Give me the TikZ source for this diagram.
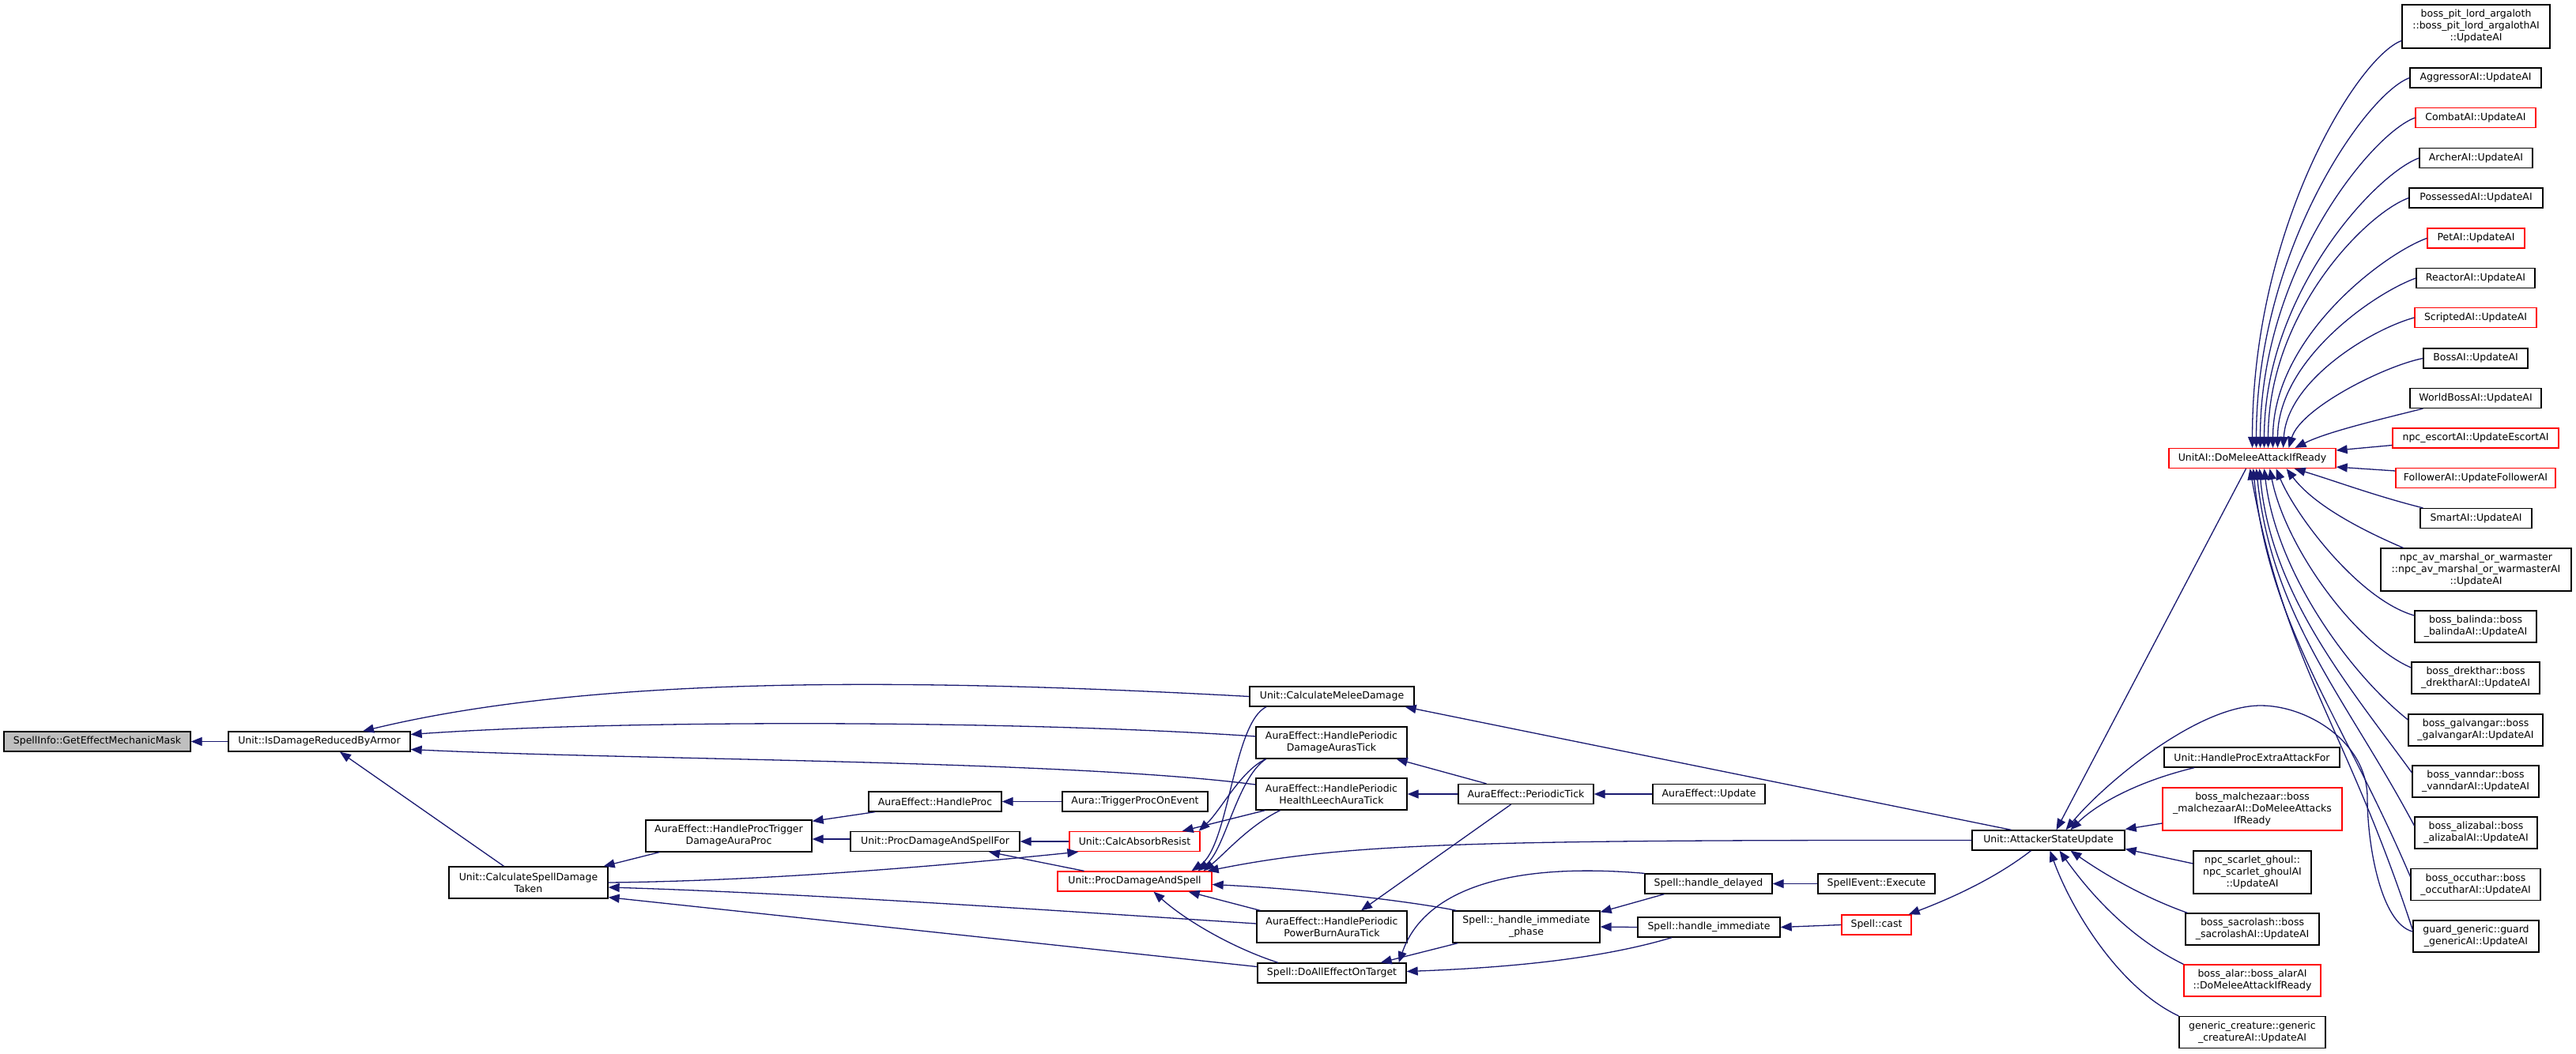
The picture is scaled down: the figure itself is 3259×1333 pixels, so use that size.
\documentclass[tikz,border=0pt]{standalone}
\usepackage{fontspec}
\setmainfont{DejaVu Sans}
\usetikzlibrary{arrows.meta}
\definecolor{DoxBlue}{RGB}{25,25,112}
\definecolor{DoxGray}{RGB}{191,191,191}
\definecolor{DoxRed}{RGB}{255,0,0}
\tikzset{
  fnbox/.style={rectangle, draw=black, line width=1.3pt, fill=white,
    align=center, inner sep=1pt, minimum height=25pt},
  redbox/.style={fnbox, draw=DoxRed},
  rootbox/.style={fnbox, fill=DoxGray},
  arrow/.style={-{Triangle[length=14pt,width=11pt]}, line width=1.3pt, draw=DoxBlue}
}
\begin{document}
\begin{tikzpicture}[x=1pt, y=-1pt, every node/.style={font=\fontsize{12.5}{15}\selectfont}]
  \useasboundingbox (0,0) rectangle (3259,1333);
  \node[rootbox, minimum width=236pt] (gemm) at (123,938.5) {SpellInfo::GetEffectMechanicMask};
  \node[fnbox, minimum width=230pt] (isdra) at (404,938.5) {Unit::IsDamageReducedByArmor};
  \node[fnbox, minimum width=201pt, minimum height=40pt] (csdt) at (668.5,1117) {Unit::CalculateSpellDamage\\Taken};
  \node[fnbox, minimum width=210pt, minimum height=40pt] (hptd) at (922,1058) {AuraEffect::HandleProcTrigger\\DamageAuraProc};
  \node[fnbox, minimum width=168pt] (hproc) at (1183,1014.5) {AuraEffect::HandleProc};
  \node[fnbox, minimum width=184pt] (tpoe) at (1436,1014.5) {Aura::TriggerProcOnEvent};
  \node[fnbox, minimum width=214pt] (pdasf) at (1183,1065) {Unit::ProcDamageAndSpellFor};
  \node[redbox, minimum width=165pt] (car) at (1435.5,1065) {Unit::CalcAbsorbResist};
  \node[redbox, minimum width=195pt] (pdas) at (1435.5,1115.5) {Unit::ProcDamageAndSpell};
  \node[fnbox, minimum width=208pt] (cmd) at (1685,881.5) {Unit::CalculateMeleeDamage};
  \node[fnbox, minimum width=191pt, minimum height=40pt] (hpdat) at (1684.5,940) {AuraEffect::HandlePeriodic\\DamageAurasTick};
  \node[fnbox, minimum width=191pt, minimum height=40pt] (hphl) at (1684.5,1005) {AuraEffect::HandlePeriodic\\HealthLeechAuraTick};
  \node[fnbox, minimum width=190pt, minimum height=40pt] (hppb) at (1685,1173) {AuraEffect::HandlePeriodic\\PowerBurnAuraTick};
  \node[fnbox, minimum width=188pt] (daeot) at (1685,1231.5) {Spell::DoAllEffectOnTarget};
  \node[fnbox, minimum width=171pt] (ptick) at (1930.5,1005) {AuraEffect::PeriodicTick};
  \node[fnbox, minimum width=142pt] (aeupd) at (2162,1005) {AuraEffect::Update};
  \node[fnbox, minimum width=186pt, minimum height=40pt] (hip) at (1931,1173) {Spell::\_handle\_immediate\\\_phase};
  \node[fnbox, minimum width=161pt] (hdel) at (2161.5,1118.5) {Spell::handle\_delayed};
  \node[fnbox, minimum width=180pt] (hims) at (2162,1173.5) {Spell::handle\_immediate};
  \node[fnbox, minimum width=148pt] (seexe) at (2374,1118.5) {SpellEvent::Execute};
  \node[redbox, minimum width=88pt] (scast) at (2374,1170.5) {Spell::cast};
  \node[fnbox, minimum width=193pt] (asu) at (2591.5,1063.5) {Unit::AttackerStateUpdate};
  \node[redbox, minimum width=211pt] (dmaif) at (2849.5,580) {UnitAI::DoMeleeAttackIfReady};
  \node[fnbox, minimum width=222pt] (hpeaf) at (2849,958.5) {Unit::HandleProcExtraAttackFor};
  \node[redbox, minimum width=227pt, minimum height=54pt] (malch) at (2849.5,1024) {boss\_malchezaar::boss\\\_malchezaarAI::DoMeleeAttacks\\IfReady};
  \node[fnbox, minimum width=149pt, minimum height=54pt] (scarlet) at (2849.5,1104) {npc\_scarlet\_ghoul::\\npc\_scarlet\_ghoulAI\\::UpdateAI};
  \node[fnbox, minimum width=169pt, minimum height=40pt] (sacro) at (2849.5,1176) {boss\_sacrolash::boss\\\_sacrolashAI::UpdateAI};
  \node[redbox, minimum width=173pt, minimum height=40pt] (alar) at (2849.5,1241) {boss\_alar::boss\_alarAI\\::DoMeleeAttackIfReady};
  \node[fnbox, minimum width=185pt, minimum height=40pt] (gencr) at (2849.5,1306.5) {generic\_creature::generic\\\_creatureAI::UpdateAI};
  \node[fnbox, minimum width=187pt, minimum height=55pt] (pitlord) at (3132.5,33.5) {boss\_pit\_lord\_argaloth\\::boss\_pit\_lord\_argalothAI\\::UpdateAI};
  \node[fnbox, minimum width=166pt] (aggr) at (3132,98.5) {AggressorAI::UpdateAI};
  \node[redbox, minimum width=152pt] (combat) at (3132,149) {CombatAI::UpdateAI};
  \node[fnbox, minimum width=143pt] (archer) at (3132.5,200) {ArcherAI::UpdateAI};
  \node[fnbox, minimum width=169pt] (possessed) at (3132.5,250.5) {PossessedAI::UpdateAI};
  \node[redbox, minimum width=123pt] (petai) at (3132.5,301.5) {PetAI::UpdateAI};
  \node[fnbox, minimum width=150pt] (reactor) at (3132,352) {ReactorAI::UpdateAI};
  \node[redbox, minimum width=154pt] (scripted) at (3132,402) {ScriptedAI::UpdateAI};
  \node[fnbox, minimum width=132pt] (bossai) at (3132,453.5) {BossAI::UpdateAI};
  \node[fnbox, minimum width=166pt] (worldboss) at (3132,504) {WorldBossAI::UpdateAI};
  \node[redbox, minimum width=210pt] (escort) at (3132,554.5) {npc\_escortAI::UpdateEscortAI};
  \node[redbox, minimum width=202pt] (follower) at (3132,605) {FollowerAI::UpdateFollowerAI};
  \node[fnbox, minimum width=141pt] (smart) at (3132.5,656) {SmartAI::UpdateAI};
  \node[fnbox, minimum width=241pt, minimum height=54pt] (avmarshal) at (3132.5,721) {npc\_av\_marshal\_or\_warmaster\\::npc\_av\_marshal\_or\_warmasterAI\\::UpdateAI};
  \node[fnbox, minimum width=154pt, minimum height=40pt] (balinda) at (3132,793) {boss\_balinda::boss\\\_balindaAI::UpdateAI};
  \node[fnbox, minimum width=162pt, minimum height=40pt] (drekthar) at (3132,858) {boss\_drekthar::boss\\\_drektharAI::UpdateAI};
  \node[fnbox, minimum width=170pt, minimum height=40pt] (galvangar) at (3132,924) {boss\_galvangar::boss\\\_galvangarAI::UpdateAI};
  \node[fnbox, minimum width=160pt, minimum height=40pt] (vanndar) at (3132,989) {boss\_vanndar::boss\\\_vanndarAI::UpdateAI};
  \node[fnbox, minimum width=155pt, minimum height=40pt] (alizabal) at (3132.5,1054) {boss\_alizabal::boss\\\_alizabalAI::UpdateAI};
  \node[fnbox, minimum width=164pt, minimum height=40pt] (occuthar) at (3132,1119.5) {boss\_occuthar::boss\\\_occutharAI::UpdateAI};
  \node[fnbox, minimum width=159pt, minimum height=40pt] (guard) at (3132.5,1185) {guard\_generic::guard\\\_genericAI::UpdateAI};
  \draw[arrow] (isdra.west) -- (gemm.east);
  \draw[arrow] (cmd.west) .. controls (1150,858) and (750,855) .. ([xshift=55pt]isdra.north);
  \draw[arrow] ([yshift=8pt]hpdat.west) .. controls (1300,912) and (800,910) .. ([yshift=9pt]isdra.east);
  \draw[arrow] ([yshift=12pt]hphl.west) .. controls (1350,962) and (800,962) .. ([yshift=-10pt]isdra.east);
  \draw[arrow] ([xshift=-31pt]csdt.north) -- ([xshift=26pt]isdra.south);
  \draw[arrow] ([xshift=-88pt]hptd.south) -- ([xshift=-6pt]csdt.north east);
  \draw[arrow] (csdt.east) .. controls (950,1115) and (1150,1100) .. ([xshift=12pt]car.south west);
  \draw[arrow] ([yshift=4pt]hppb.west) .. controls (1300,1150) and (1000,1130) .. ([yshift=-6pt]csdt.east);
  \draw[arrow] ([yshift=8pt]daeot.west) -- ([yshift=2pt]csdt.south east);
  \draw[arrow] ([xshift=-76pt]hproc.south) -- ([yshift=-2pt]hptd.north east);
  \draw[arrow] ([yshift=3pt]pdasf.west) -- ([yshift=-4pt]hptd.east);
  \draw[arrow] (tpoe.west) -- (hproc.east);
  \draw[arrow] (car.west) -- (pdasf.east);
  \draw[arrow] ([xshift=-64pt]pdas.north) -- ([xshift=68pt]pdasf.south);
  \draw[arrow] ([xshift=-83pt]cmd.south) .. controls (1560,915) and (1555,1070) .. ([xshift=72pt]pdas.north);
  \draw[arrow] ([xshift=-83pt]hpdat.south) .. controls (1570,975) and (1545,1025) .. ([xshift=-2pt]car.north east);
  \draw[arrow] ([xshift=-83pt]hpdat.south) .. controls (1565,985) and (1550,1075) .. ([xshift=80pt]pdas.north);
  \draw[arrow] ([xshift=-84pt]hphl.south) -- ([xshift=-23pt]car.north east);
  \draw[arrow] ([xshift=-65pt]hphl.south) .. controls (1580,1045) and (1550,1080) .. ([xshift=87pt]pdas.north);
  \draw[arrow] (asu.west) .. controls (1850,1063) and (1700,1068) .. ([xshift=-6pt]pdas.north east);
  \draw[arrow] ([xshift=5pt]hip.north west) .. controls (1780,1140) and (1650,1125) .. ([yshift=-4pt]pdas.east);
  \draw[arrow] ([xshift=5pt]hppb.north west) -- ([xshift=-30pt]pdas.south east);
  \draw[arrow] ([xshift=-68pt]daeot.north) .. controls (1560,1200) and (1500,1165) .. ([xshift=24pt]pdas.south);
  \draw[arrow] ([xshift=-50pt]ptick.north) -- ([xshift=-14pt]hpdat.south east);
  \draw[arrow] (ptick.west) -- (hphl.east);
  \draw[arrow] ([xshift=-19pt]ptick.south) -- ([xshift=37pt]hppb.north);
  \draw[arrow] (aeupd.west) -- (ptick.east);
  \draw[arrow] ([xshift=-47pt]asu.north) -- ([xshift=-12pt]cmd.south east);
  \draw[arrow] (seexe.west) -- (hdel.east);
  \draw[arrow] ([xshift=-56pt]hdel.south) -- ([yshift=-2pt]hip.north east);
  \draw[arrow] (hims.west) -- (hip.east);
  \draw[arrow] (scast.west) -- (hims.east);
  \draw[arrow] ([xshift=-22pt]asu.south) .. controls (2520,1115) and (2460,1140) .. ([xshift=-4pt]scast.north east);
  \draw[arrow] (hdel.north west) .. controls (1900,1090) and (1800,1130) .. ([xshift=-10pt]daeot.north east);
  \draw[arrow] ([xshift=7pt]hip.south west) -- ([xshift=-33pt]daeot.north east);
  \draw[arrow] ([xshift=-47pt]hims.south) .. controls (2020,1215) and (1900,1225) .. ([yshift=2pt]daeot.east);
  \draw[arrow] ([xshift=-8pt]dmaif.south) -- ([xshift=10pt]asu.north);
  \draw[arrow] ([yshift=6pt]guard.west) .. controls +(-40,-10) and (2995,1070) .. (2995,1010)
    .. controls (2995,940) and (2920,893) .. (2860,893)
    .. controls (2780,893) and (2663,991) .. ([xshift=22pt]asu.north);
  \draw[arrow] ([xshift=-73pt]hpeaf.south) .. controls (2700,990) and (2650,1020) .. ([xshift=28pt]asu.north);
  \draw[arrow] ([yshift=-18pt]malch.west) -- ([yshift=14pt]asu.east);
  \draw[arrow] ([yshift=11pt]scarlet.west) -- ([yshift=-11pt]asu.east);
  \draw[arrow] ([xshift=3pt]sacro.north west) .. controls (2710,1135) and (2660,1105) .. ([xshift=28pt]asu.south);
  \draw[arrow] (alar.north west) .. controls (2690,1185) and (2640,1125) .. ([xshift=14pt]asu.south);
  \draw[arrow] (gencr.north west) .. controls (2680,1250) and (2620,1150) .. ([xshift=2pt]asu.south);
  \draw[arrow] ([yshift=-18pt]pitlord.west) .. controls +(-55,20) and +(0,-280) .. (dmaif.north);
  \draw[arrow] (aggr.west) .. controls +(-55,20) and +(0,-250) .. ([xshift=5pt]dmaif.north);
  \draw[arrow] (combat.west) .. controls +(-55,20) and +(0,-225) .. ([xshift=10pt]dmaif.north);
  \draw[arrow] (archer.west) .. controls +(-55,20) and +(0,-195) .. ([xshift=15pt]dmaif.north);
  \draw[arrow] (possessed.west) .. controls +(-55,20) and +(0,-170) .. ([xshift=20pt]dmaif.north);
  \draw[arrow] (petai.west) .. controls +(-55,20) and +(0,-140) .. ([xshift=26pt]dmaif.north);
  \draw[arrow] (reactor.west) .. controls +(-55,20) and +(0,-110) .. ([xshift=32pt]dmaif.north);
  \draw[arrow] (scripted.west) .. controls +(-55,15) and +(5,-85) .. ([xshift=39pt]dmaif.north);
  \draw[arrow] (bossai.west) .. controls +(-50,10) and +(15,-50) .. ([xshift=46pt]dmaif.north);
  \draw[arrow] ([xshift=17pt]worldboss.south west) .. controls +(-60,15) and +(40,-20) .. ([xshift=54pt]dmaif.north);
  \draw[arrow] ([yshift=-9pt]escort.west) -- ([yshift=10pt]dmaif.east);
  \draw[arrow] ([yshift=9pt]follower.west) -- ([yshift=-11pt]dmaif.east);
  \draw[arrow] ([xshift=4pt]smart.north west) .. controls +(-60,-15) and +(50,15) .. ([xshift=-53pt]dmaif.south east);
  \draw[arrow] ([xshift=29pt]avmarshal.north west) .. controls +(-70,-30) and +(30,40) .. ([xshift=-63pt]dmaif.south east);
  \draw[arrow] ([yshift=14pt]balinda.west) .. controls +(-70,-20) and +(25,60) .. ([xshift=30pt]dmaif.south);
  \draw[arrow] ([yshift=13pt]drekthar.west) .. controls +(-70,-30) and +(20,100) .. ([xshift=22pt]dmaif.south);
  \draw[arrow] ([yshift=13pt]galvangar.west) .. controls +(-75,-60) and +(15,130) .. ([xshift=15pt]dmaif.south);
  \draw[arrow] ([yshift=11pt]vanndar.west) .. controls +(-80,-110) and +(15,160) .. ([xshift=9pt]dmaif.south);
  \draw[arrow] ([yshift=9pt]alizabal.west) .. controls +(-85,-160) and +(20,190) .. ([xshift=5pt]dmaif.south);
  \draw[arrow] ([yshift=10pt]occuthar.west) .. controls +(-85,-200) and +(20,200) .. ([xshift=1pt]dmaif.south);
  \draw[arrow] ([yshift=8pt]guard.west) .. controls +(-85,-260) and +(45,250) .. ([xshift=-3pt]dmaif.south);
\end{tikzpicture}
\end{document}
